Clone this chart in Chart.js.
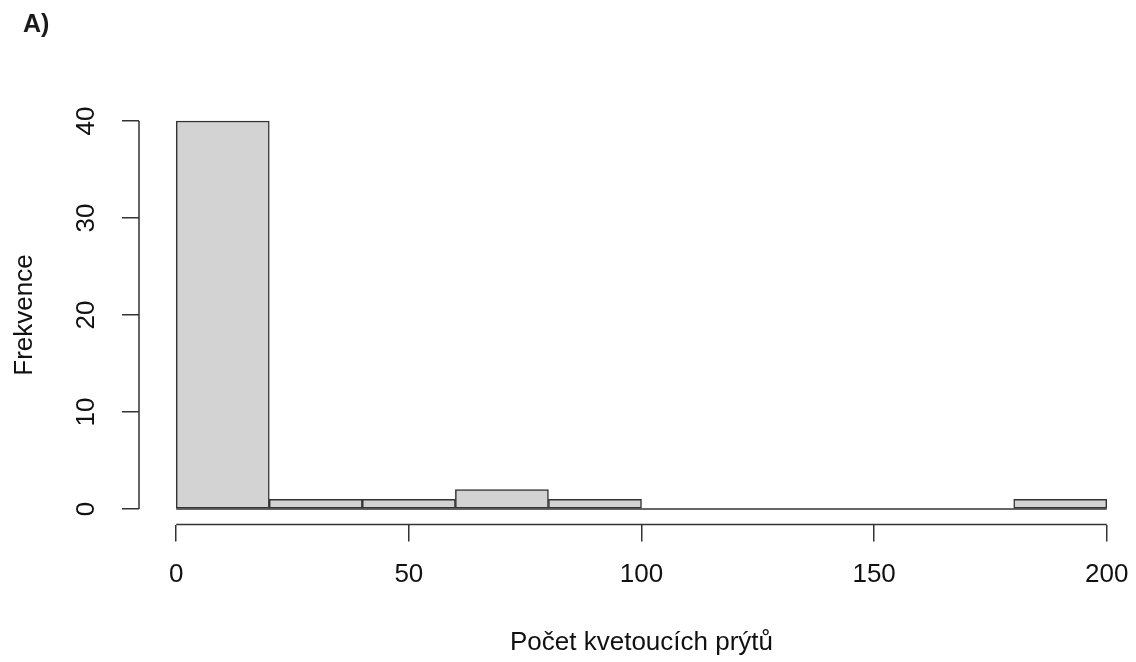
<!DOCTYPE html>
<html>
<head>
<meta charset="utf-8">
<script src="https://cdn.jsdelivr.net/npm/chart.js@4.4.0/dist/chart.umd.min.js"></script>
<style>
  html, body { margin: 0; padding: 0; background: #fff; overflow: hidden; }
  #wrap { position: relative; width: 1160px; height: 662px; }
  #panel {
    position: absolute; left: 23px; top: 9px;
    font: bold 25px "Liberation Sans", Arial, sans-serif; color: #1a1a1a;
  }
</style>
</head>
<body>
<div id="wrap">
  <canvas id="hist" width="1160" height="662"></canvas>
  <div id="panel">A)</div>
</div>
<script>
// histogram data (bins of width 20)
const breaks = [0, 20, 40, 60, 80, 100, 120, 140, 160, 180, 200];
const counts = [40, 1, 1, 2, 1, 0, 0, 0, 0, 1];
const xTicks = [0, 50, 100, 150, 200];
const yTicks = [0, 10, 20, 30, 40];
const xTitle = 'Počet kvetoucích prýtů';
const yTitle = 'Frekvence';

const FONT = '"Liberation Sans", Arial, sans-serif';
const INK = '#333';

const barData = counts.map((c, i) => ({ x: (breaks[i] + breaks[i + 1]) / 2, y: c }));
const baseLine = [{ x: breaks[0], y: 0 }, { x: breaks[breaks.length - 1], y: 0 }];

// R-like detached axes: axis lines only between first and last tick, rotated y labels
const rAxes = {
  id: 'rAxes',
  afterDraw(chart) {
    const { ctx, chartArea } = chart;
    const xs = chart.scales.x, ys = chart.scales.y;
    ctx.save();
    ctx.strokeStyle = INK;
    ctx.lineWidth = 1.5;
    ctx.beginPath();
    ctx.moveTo(xs.getPixelForValue(xTicks[0]), chartArea.bottom);
    ctx.lineTo(xs.getPixelForValue(xTicks[xTicks.length - 1]), chartArea.bottom);
    ctx.moveTo(chartArea.left, ys.getPixelForValue(yTicks[0]));
    ctx.lineTo(chartArea.left, ys.getPixelForValue(yTicks[yTicks.length - 1]));
    ctx.stroke();

    ctx.fillStyle = '#111';
    ctx.font = '26px ' + FONT;
    ctx.textAlign = 'center';
    ctx.textBaseline = 'middle';
    yTicks.forEach(v => {
      ctx.save();
      ctx.translate(chartArea.left - 52, ys.getPixelForValue(v));
      ctx.rotate(-Math.PI / 2);
      ctx.fillText(String(v), 0, 0);
      ctx.restore();
    });
    ctx.restore();
  }
};

new Chart(document.getElementById('hist'), {
  type: 'bar',
  data: {
    datasets: [
      {
        type: 'line',
        data: baseLine,
        borderColor: INK,
        borderWidth: 1.5,
        pointRadius: 0,
        order: 2
      },
      {
        data: barData,
        backgroundColor: '#d3d3d3',
        borderColor: INK,
        borderWidth: 1.5,
        borderSkipped: false,
        barPercentage: 1,
        categoryPercentage: 1,
        order: 1
      }
    ]
  },
  options: {
    responsive: false,
    animation: false,
    layout: { padding: { left: 0, top: 105.5, right: 16, bottom: 0 } },
    plugins: { legend: { display: false }, tooltip: { enabled: false } },
    scales: {
      x: {
        type: 'linear',
        min: -8,
        max: 208,
        offset: false,
        afterBuildTicks: s => { s.ticks = xTicks.map(v => ({ value: v })); },
        afterFit: s => { s.height = 137.5; },
        border: { display: false },
        grid: { offset: false, drawOnChartArea: false, tickLength: 17, color: INK, lineWidth: 1.5 },
        ticks: { color: '#111', font: { family: FONT, size: 26 }, padding: 18, maxRotation: 0 },
        title: { display: true, text: xTitle, color: '#111', font: { family: FONT, size: 26 }, padding: { top: 0, bottom: 4 } }
      },
      y: {
        type: 'linear',
        min: -1.6,
        max: 41.6,
        afterBuildTicks: s => { s.ticks = yTicks.map(v => ({ value: v })); },
        afterFit: s => { s.width = 139; },
        border: { display: false },
        grid: { offset: false, drawOnChartArea: false, tickLength: 17, color: INK, lineWidth: 1.5 },
        ticks: { display: false },
        title: { display: true, text: yTitle, color: '#111', font: { family: FONT, size: 26 }, padding: { top: 9, bottom: 0 } }
      }
    }
  },
  plugins: [rAxes]
});
</script>
</body>
</html>
